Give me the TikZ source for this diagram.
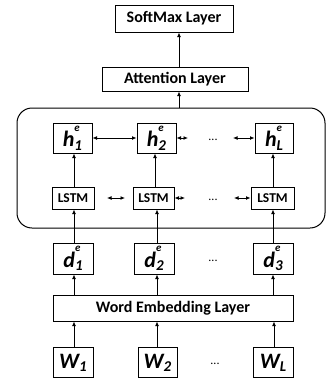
\documentclass[tikz,border=0pt]{standalone}
\usepackage{fontspec}
\setmainfont{Carlito}
\usetikzlibrary{arrows.meta}
\newcommand{\vlab}[3]{{\fontsize{22}{22}\selectfont\bfseries\itshape #1\rlap{\raisebox{1.45ex}{\fontsize{11}{11}\selectfont #2}}\raisebox{-0.3ex}{\fontsize{15}{15}\selectfont #3}}}
\begin{document}
\begin{tikzpicture}[x=1pt,y=-1pt,
  box/.style={draw, line width=1pt, inner sep=0pt, font=\bfseries\fontsize{16}{18}\selectfont},
  sbox/.style={box, font=\bfseries\fontsize{13.5}{15}\selectfont},
  ar/.style={-{Latex[length=4.5pt,width=4pt]}, line width=1pt},
  dar/.style={{Latex[length=4.5pt,width=4pt]}-{Latex[length=4.5pt,width=4pt]}, line width=1pt},
  dots/.style={font=\fontsize{12}{12}\selectfont}]
\useasboundingbox (0,0) rectangle (328,381);
\node[box, minimum width=118, minimum height=27] (soft) at (174,18.5) {SoftMax Layer};
\node[box, minimum width=146, minimum height=24] (att) at (175,79) {Attention Layer};
\node[draw, line width=1pt, rounded corners=15, minimum width=308, minimum height=120, inner sep=0pt] (frame) at (171,168) {};
\node[box, minimum width=39, minimum height=30] (h1) at (72.5,138) {\vlab{h}{e}{1}};
\node[box, minimum width=39, minimum height=30] (h2) at (156.5,138) {\vlab{h}{e}{2}};
\node[box, minimum width=38, minimum height=30] (hL) at (274,138) {\vlab{h}{e}{L}};
\node[sbox, minimum width=42, minimum height=22] (l1) at (73,198) {LSTM};
\node[sbox, minimum width=41, minimum height=22] (l2) at (153.5,198) {LSTM};
\node[sbox, minimum width=43, minimum height=22] (l3) at (272.5,198) {LSTM};
\node[box, minimum width=40, minimum height=31] (d1) at (73,258.5) {\vlab{d}{e}{1}};
\node[box, minimum width=40, minimum height=31] (d2) at (154,258.5) {\vlab{d}{e}{2}};
\node[box, minimum width=40, minimum height=31] (d3) at (273,258.5) {\vlab{d}{e}{3}};
\node[box, minimum width=240, minimum height=26] (emb) at (173,308) {Word Embedding Layer};
\node[box, minimum width=40, minimum height=30] (w1) at (73,362) {\vlab{W}{}{1}};
\node[box, minimum width=39, minimum height=30] (w2) at (157.5,362) {\vlab{W}{}{2}};
\node[box, minimum width=40, minimum height=30] (wL) at (273,362) {\vlab{W}{}{L}};
\node[dots] (dt1) at (213,140) {...};
\node[dots] (dt2) at (213,200) {...};
\node[dots] (dt3) at (213,261) {...};
\node[dots] (dt4) at (215,364) {...};
% vertical arrows
\draw[ar] (w1.north -| 74,0) -- (emb.south -| 74,0);
\draw[ar] (w2.north -| 157,0) -- (emb.south -| 157,0);
\draw[ar] (wL.north -| 274,0) -- (emb.south -| 274,0);
\draw[ar] (emb.north -| 74,0) -- (d1.south -| 74,0);
\draw[ar] (emb.north -| 157,0) -- (d2.south -| 157,0);
\draw[ar] (emb.north -| 273,0) -- (d3.south -| 273,0);
\draw[ar] (d1.north -| 74,0) -- (l1.south -| 74,0);
\draw[ar] (d2.north -| 157,0) -- (l2.south -| 157,0);
\draw[ar] (d3.north -| 273,0) -- (l3.south -| 273,0);
\draw[ar] (l1.north -| 74,0) -- (h1.south -| 74,0);
\draw[ar] (l2.north -| 155,0) -- (h2.south -| 155,0);
\draw[ar] (l3.north -| 273,0) -- (hL.south -| 273,0);
\draw[ar] (frame.north -| 179,0) -- (att.south -| 179,0);
\draw[ar] (att.north -| 179,0) -- (soft.south -| 179,0);
% horizontal arrows
\draw[dar] (h1.east) -- (h2.west);
\coordinate (a2) at (188,138);
\coordinate (a3) at (233,138);
\draw[dar] (h2.east) -- (a2);
\draw[dar] (a3) -- (hL.west);
\coordinate (b1) at (107,198); \coordinate (b2) at (125,198);
\coordinate (b3) at (185,198); \coordinate (b4) at (234,198);
\draw[dar] (b1) -- (b2);
\draw[dar] (l2.east) -- (b3);
\draw[dar] (b4) -- (l3.west);
\end{tikzpicture}
\end{document}
